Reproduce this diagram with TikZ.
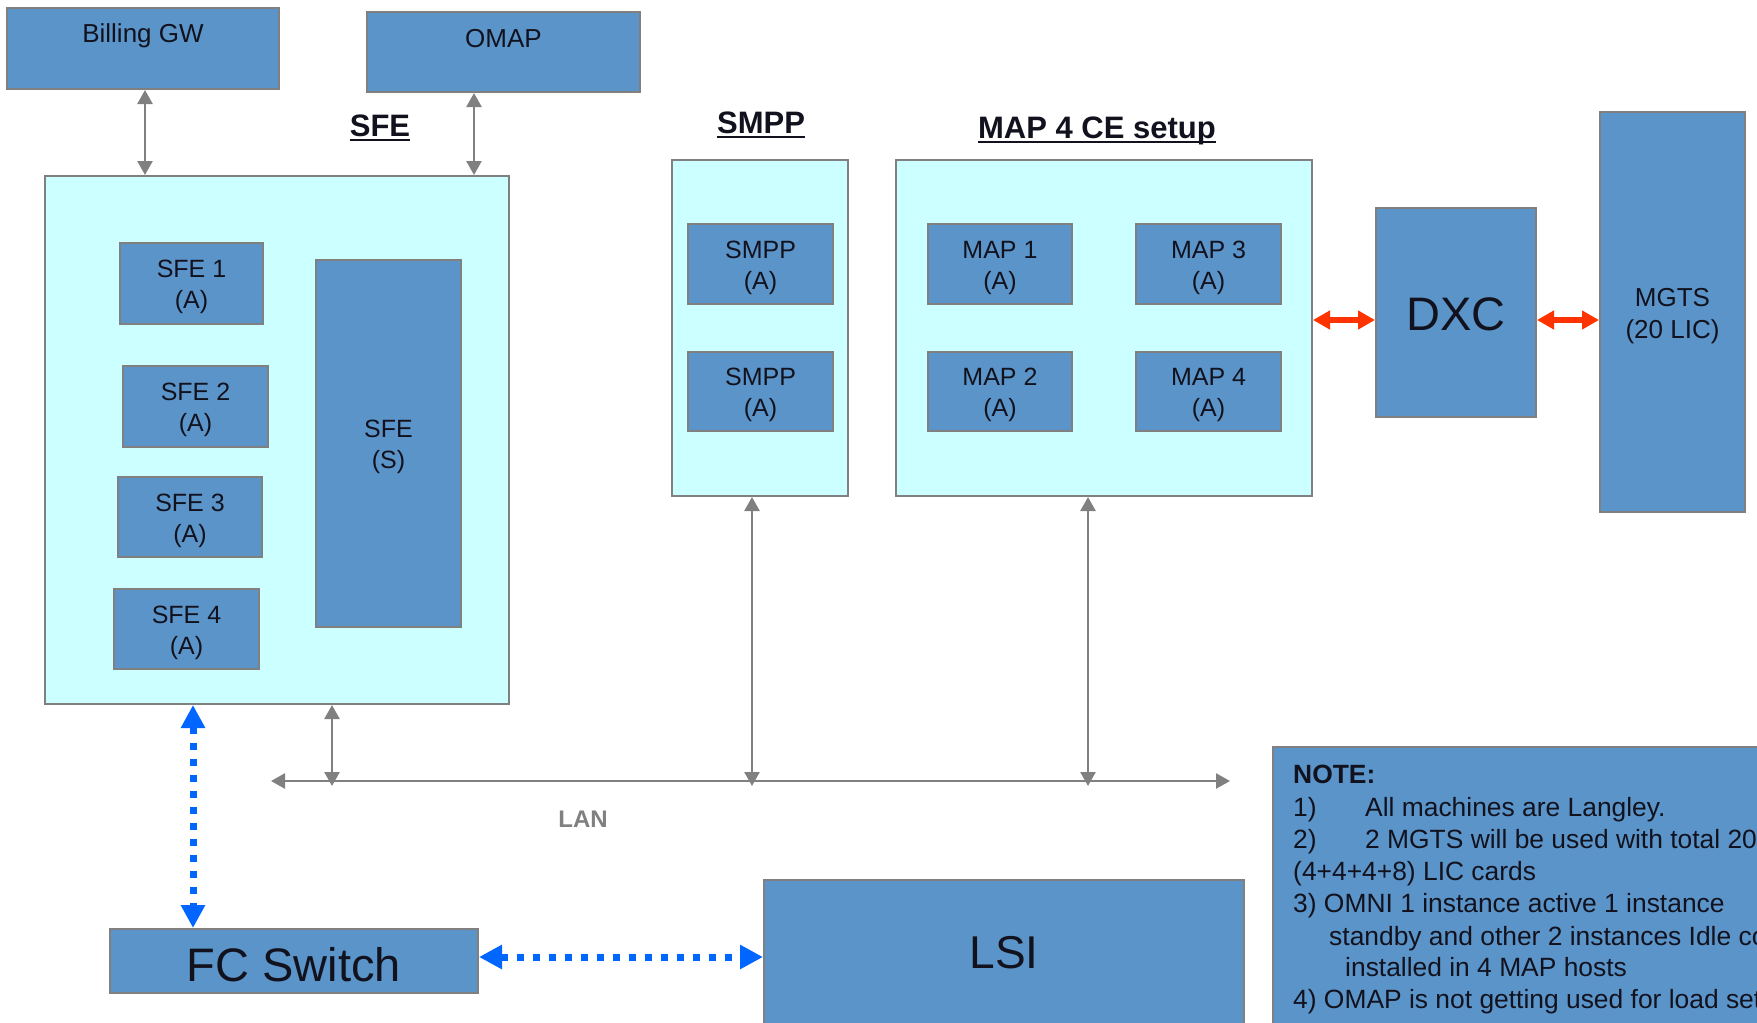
\documentclass[tikz,border=0pt]{standalone}
\usepackage{fontspec}
\setmainfont{Liberation Sans}
\usetikzlibrary{arrows.meta}
\definecolor{boxblue}{HTML}{5B94C8}
\definecolor{cyanbg}{HTML}{CCFFFF}
\definecolor{edge}{HTML}{808080}
\definecolor{ink}{HTML}{12121E}
\definecolor{redarr}{HTML}{FF3300}
\definecolor{bluearr}{HTML}{0066FF}
\tikzset{
  sz/.style 2 args={minimum width=#1pt, minimum height=#2pt},
  unit/.style={draw=edge, line width=2pt, fill=boxblue, inner sep=0pt},
  utext/.style={label={[inner sep=0pt, align=center, text=ink, yshift=-3.5pt,
    font=\fontsize{25}{31}\selectfont]center:#1}},
  group/.style={draw=edge, line width=2pt, fill=cyanbg, inner sep=0pt},
  title/.style={inner sep=0pt, text=ink, anchor=base, font=\fontsize{31}{36}\selectfont\bfseries},
  uline/.style={draw=ink, line width=2.5pt},
  garrow/.style={draw=edge, line width=2.5pt,
    {Triangle[length=14pt,width=15pt]}-{Triangle[length=14pt,width=15pt]}},
  rarrow/.style={draw=redarr, line width=6pt,
    {Triangle[length=17pt,width=18pt]}-{Triangle[length=17pt,width=18pt]}},
  barrow/.style={draw=bluearr, line width=7pt, line cap=butt, dash pattern=on 7pt off 9pt,
    {Triangle[length=23pt,width=23pt]}-{Triangle[length=23pt,width=23pt]}},
  notetxt/.style={inner sep=0pt, text=ink, anchor=base west, font=\fontsize{26.4}{32}\selectfont},
}
\begin{document}
\begin{tikzpicture}[x=1pt, y=-1pt]
\useasboundingbox (0,0) rectangle (1757,1023);
\clip (0,0) rectangle (1757,1023);
\fill[white] (0,0) rectangle (1757,1023);

% external systems at the top
\node[unit, sz={272}{81}, label={[anchor=center, yshift=-28.5pt, text=ink, font=\fontsize{26}{31}\selectfont]north:Billing GW}] (bill) at (143,48.5) {};
\node[unit, sz={273}{80}, label={[anchor=center, yshift=-27.5pt, text=ink, font=\fontsize{26}{31}\selectfont]north:OMAP}] (omap) at (503.5,52) {};

% SFE group
\node[title] (sfelbl) at (380,136) {SFE};
\draw[uline] ([yshift=-4pt]sfelbl.base west) -- ([yshift=-4pt]sfelbl.base east);
\node[group, sz={464}{528}] (sfe) at (277,440) {};
\node[unit, sz={143}{81}, utext={SFE 1\\(A)}] (sfe1) at (191.5,283.5) {};
\node[unit, sz={145}{81}, utext={SFE 2\\(A)}] (sfe2) at (195.5,406.5) {};
\node[unit, sz={144}{80}, utext={SFE 3\\(A)}] (sfe3) at (190,517) {};
\node[unit, sz={145}{80}, utext={SFE 4\\(A)}] (sfe4) at (186.5,629) {};
\node[unit, sz={145}{367}, utext={SFE\\(S)}] (sfes) at (388.5,443.5) {};

% SMPP group
\node[title] (smpplbl) at (761,133) {SMPP};
\draw[uline] ([yshift=-4pt]smpplbl.base west) -- ([yshift=-4pt]smpplbl.base east);
\node[group, sz={176}{336}] (smpp) at (760,328) {};
\node[unit, sz={145}{80}, utext={SMPP\\(A)}] (smpp1) at (760.5,264) {};
\node[unit, sz={145}{79}, utext={SMPP\\(A)}] (smpp2) at (760.5,391.5) {};

% MAP group
\node[title] (maplbl) at (1097,138) {MAP 4 CE setup};
\draw[uline] ([yshift=-4pt]maplbl.base west) -- ([yshift=-4pt]maplbl.base east);
\node[group, sz={416}{336}] (map) at (1104,328) {};
\node[unit, sz={144}{80}, utext={MAP 1\\(A)}] (map1) at (1000,264) {};
\node[unit, sz={145}{80}, utext={MAP 3\\(A)}] (map3) at (1208.5,264) {};
\node[unit, sz={144}{79}, utext={MAP 2\\(A)}] (map2) at (1000,391.5) {};
\node[unit, sz={145}{79}, utext={MAP 4\\(A)}] (map4) at (1208.5,391.5) {};

% cross-connect and test system
\node[unit, sz={160}{209}, label={[inner sep=0pt, text=ink, yshift=-2pt, font=\fontsize{47}{52}\selectfont]center:DXC}] (dxc) at (1456,312.5) {};
\node[unit, sz={145}{400}, label={[inner sep=0pt, align=center, text=ink, yshift=-4.5pt, font=\fontsize{26}{32}\selectfont]center:MGTS\\(20 LIC)}] (mgts) at (1672.5,312) {};

% storage
\node[unit, sz={368}{64}, label={[inner sep=0pt, text=ink, yshift=-3.5pt, font=\fontsize{47}{52}\selectfont]center:FC Switch}] (fc) at (294,961) {};
\node[unit, sz={480}{170}] (lsi) at (1004,965) {};
\node[inner sep=0pt, text=ink, font=\fontsize{46}{50}\selectfont] (lsitxt) at (1004,953) {LSI};

% notes
\node[draw=edge, line width=2pt, fill=boxblue, sz={530}{330}, anchor=north west] (note) at (1272,746) {};
\node[notetxt, font=\fontsize{26.4}{32}\selectfont\bfseries] (n0) at (1293,783) {NOTE:};
\node[notetxt] (n1a) at (1293,816) {1)};
\node[notetxt] (n1b) at (1365,816) {All machines are Langley.};
\node[notetxt] (n2a) at (1293,848) {2)};
\node[notetxt] (n2b) at (1365,848) {2 MGTS will be used with total 20};
\node[notetxt] (n3) at (1293,880) {(4+4+4+8) LIC cards};
\node[notetxt] (n4) at (1293,912) {3) OMNI 1 instance active 1 instance};
\node[notetxt] (n5) at (1329,945) {standby and other 2 instances Idle co};
\node[notetxt] (n6) at (1345,976) {installed in 4 MAP hosts};
\node[notetxt] (n7) at (1293,1008) {4) OMAP is not getting used for load set};

% LAN bus
\coordinate (lanL) at (271,781);
\coordinate (lanR) at (1230,781);
\draw[garrow] (lanL) -- (lanR);
\node[inner sep=0pt, anchor=base, text=edge, font=\fontsize{24}{28}\selectfont\bfseries] (lanlbl) at (583,827) {LAN};

% gray links
\coordinate (xb) at (145,0);
\coordinate (xo) at (474,0);
\coordinate (xs) at (332,0);
\coordinate (xp) at (752,0);
\coordinate (xm) at (1088,0);
\draw[garrow] (bill.south -| xb) -- (sfe.north -| xb);
\draw[garrow] (omap.south -| xo) -- (sfe.north -| xo);
\draw[garrow] (sfe.south -| xs) -- ([yshift=-5pt]lanL -| xs);
\draw[garrow] (smpp.south -| xp) -- ([yshift=-5pt]lanL -| xp);
\draw[garrow] (map.south -| xm) -- ([yshift=-5pt]lanL -| xm);

% E1 links
\coordinate (ry) at (0,320);
\draw[rarrow] (map.east |- ry) -- (dxc.west |- ry);
\draw[rarrow] (dxc.east |- ry) -- (mgts.west |- ry);

% fibre channel links
\coordinate (xf) at (193,0);
\coordinate (yf) at (0,957);
\draw[barrow] (sfe.south -| xf) -- (fc.north -| xf);
\draw[barrow] (fc.east |- yf) -- (lsi.west |- yf);
\end{tikzpicture}
\end{document}
